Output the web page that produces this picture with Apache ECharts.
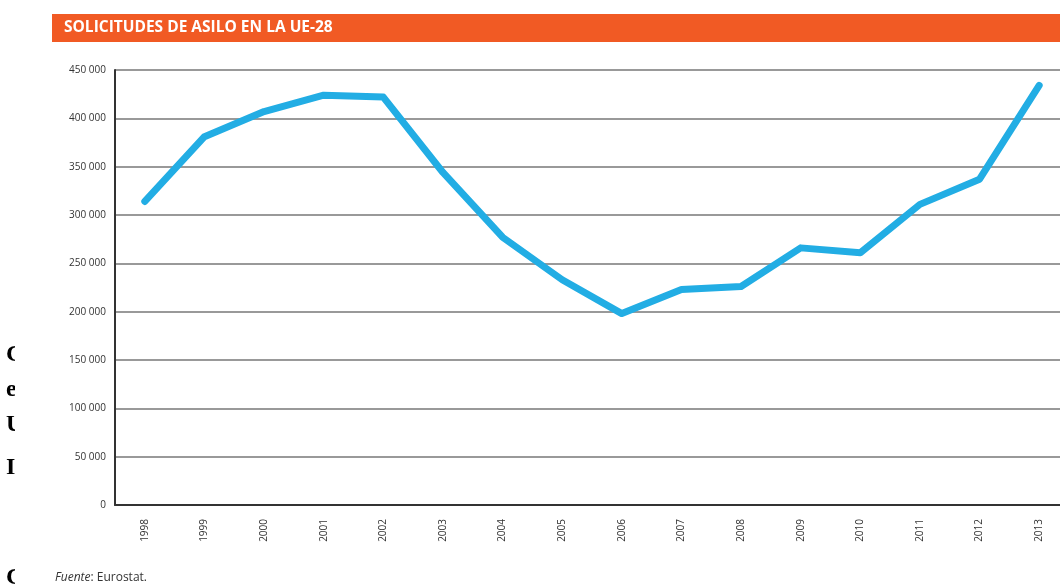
<!DOCTYPE html>
<html>
<head>
<meta charset="utf-8">
<script src="https://cdn.jsdelivr.net/npm/echarts@6/dist/echarts.min.js"></script>
<style>
    html, body { margin: 0; padding: 0; background: #fff; overflow: hidden; }
    /* el grafico original esta recortado por la derecha */
    #chart { width: 1069px; height: 586px; }
</style>
</head>
<body>
<div id="chart"></div>
<script>
    // solicitudes de asilo UE-28
    const years = ['1998', '1999', '2000', '2001', '2002', '2003', '2004', '2005',
                   '2006', '2007', '2008', '2009', '2010', '2011', '2012', '2013'];
    const solicitudes = [314000, 381000, 407000, 424000, 422000, 344000, 277000, 233000,
                         198000, 223000, 226000, 266000, 261000, 311000, 337000, 434000];
    const yTicks = [0, 450000, 50000]; // min, max, interval

    const fmt = v => String(v).replace(/\B(?=(\d{3})+(?!\d))/g, ' ');

    const chart = echarts.init(document.getElementById('chart'));
    chart.setOption({
        animation: false,
        backgroundColor: '#fff',
        grid: {
            left: 115,
            top: 70,
            right: 0,
            bottom: 81
        },
        graphic: [
            {
                type: 'rect',
                shape: { x: 52, y: 14, width: 1020, height: 28 },
                style: { fill: '#f15a24' }
            },
            {
                type: 'text',
                x: 64, y: 28,
                style: {
                    text: 'SOLICITUDES DE ASILO EN LA UE-28',
                    fill: '#fff',
                    font: 'bold 15.5px "Open Sans", sans-serif',
                    verticalAlign: 'middle'
                }
            },
            {
                type: 'text',
                x: 55, y: 578,
                style: {
                    text: '{i|Fuente}{n|: Eurostat.}',
                    rich: {
                        i: { fontStyle: 'italic', fontSize: 12, fontFamily: 'Open Sans', fill: '#333' },
                        n: { fontSize: 12, fontFamily: 'Open Sans', fill: '#333' }
                    },
                    verticalAlign: 'middle'
                }
            },
            // restos de texto cortado a la izquierda
            { type: 'text', x: 6, y: 355, style: { text: 'C', font: 'bold 24px "Liberation Serif"', fill: '#000', verticalAlign: 'middle' } },
            { type: 'text', x: 6, y: 390, style: { text: 'e', font: 'bold 24px "Liberation Serif"', fill: '#000', verticalAlign: 'middle' } },
            { type: 'text', x: 6, y: 425, style: { text: 'U', font: 'bold 24px "Liberation Serif"', fill: '#000', verticalAlign: 'middle' } },
            { type: 'text', x: 6, y: 468, style: { text: 'I', font: 'bold 24px "Liberation Serif"', fill: '#000', verticalAlign: 'middle' } },
            { type: 'text', x: 6, y: 578, style: { text: 'C', font: 'bold 24px "Liberation Serif"', fill: '#000', verticalAlign: 'middle' } },
            {
                type: 'rect', z: 100,
                shape: { x: 15, y: 335, width: 32, height: 251 },
                style: { fill: '#fff' }
            }
        ],
        xAxis: {
            type: 'category',
            data: years,
            boundaryGap: true,
            axisLine: { lineStyle: { color: '#333', width: 2 } },
            axisTick: {
                inside: true,
                length: 11,
                lineStyle: { color: '#333', width: 1.5 }
            },
            axisLabel: {
                rotate: 90,
                margin: 14,
                fontSize: 10,
                color: '#333',
                fontFamily: 'Open Sans'
            },
            splitLine: { show: false }
        },
        yAxis: {
            type: 'value',
            min: yTicks[0],
            max: yTicks[1],
            interval: yTicks[2],
            axisLine: { show: true, lineStyle: { color: '#333', width: 2 } },
            axisTick: { show: false },
            axisLabel: {
                margin: 9,
                fontSize: 10,
                color: '#333',
                fontFamily: 'Open Sans',
                formatter: v => fmt(v)
            },
            splitLine: { lineStyle: { color: '#777', width: 1.5 } }
        },
        series: [
            {
                name: 'Solicitudes de asilo',
                type: 'line',
                data: solicitudes,
                symbol: 'none',
                lineStyle: {
                    color: '#22ade4',
                    width: 7,
                    cap: 'round',
                    join: 'round'
                }
            }
        ]
    });
</script>
</body>
</html>
